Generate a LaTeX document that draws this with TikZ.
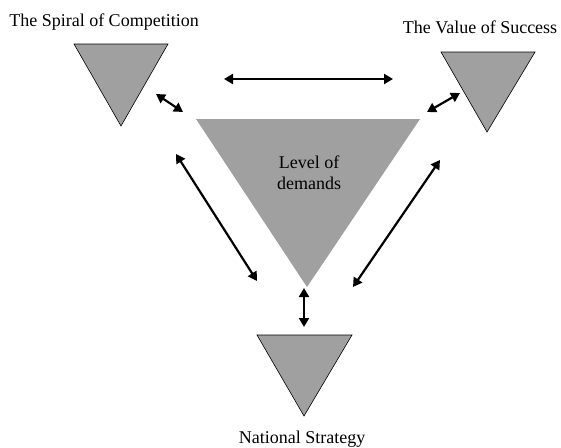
\documentclass[tikz,border=0pt]{standalone}
\usepackage{fontspec}
\setmainfont{Liberation Serif}
\usetikzlibrary{arrows.meta}
\definecolor{triGray}{RGB}{160,160,160}

\begin{document}
\begin{tikzpicture}[
        x=1pt, y=-1pt,
        small tri/.style={draw=black, line width=0.6pt, fill=triGray},
        big tri/.style={fill=triGray},
        link/.style={line width=2.2pt, {Triangle[length=9pt,width=10pt]}-{Triangle[length=9pt,width=10pt]}},
        tri label/.style={font=\fontsize{18}{21}\selectfont, inner sep=0pt}
    ]
    \useasboundingbox (0,0) rectangle (561,447);

    % corners of the four triangles
    \coordinate (sp1) at (74,44);   \coordinate (sp2) at (168,44);  \coordinate (sp3) at (121,126);
    \coordinate (va1) at (441,52);  \coordinate (va2) at (535,52);  \coordinate (va3) at (487,132);
    \coordinate (na1) at (257,335); \coordinate (na2) at (352,335); \coordinate (na3) at (304,416);
    \coordinate (le1) at (196,119); \coordinate (le2) at (420,119); \coordinate (le3) at (307,287);

    \draw [small tri] (sp1) -- (sp2) -- (sp3) -- cycle;
    \draw [small tri] (va1) -- (va2) -- (va3) -- cycle;
    \draw [small tri] (na1) -- (na2) -- (na3) -- cycle;
    \fill [big tri] (le1) -- (le2) -- (le3) -- cycle;

    \node[tri label, anchor=base] (spiral) at (104,26) {The Spiral of Competition};
    \node[tri label, anchor=base] (value) at (480,33) {The Value of Success};
    \node[tri label, anchor=base] (national) at (302,443) {National Strategy};
    \node[tri label, align=center] (level) at (309,173) {Level of\\demands};

    % free ends of the arrows
    \coordinate (spva-a) at (224,79);  \coordinate (spva-b) at (393,79);
    \coordinate (sple-a) at (156,94);  \coordinate (sple-b) at (183,112);
    \coordinate (vale-a) at (460,93);  \coordinate (vale-b) at (427,112);
    \coordinate (spna-a) at (176,154); \coordinate (spna-b) at (257,281);
    \coordinate (vana-a) at (440,160); \coordinate (vana-b) at (353,287);
    \coordinate (lena-a) at (304,288); \coordinate (lena-b) at (304,327);

    \foreach \p in {spva,sple,vale,spna,vana,lena} {
        \draw [link] (\p-a) -- (\p-b);
    }
\end{tikzpicture}
\end{document}
